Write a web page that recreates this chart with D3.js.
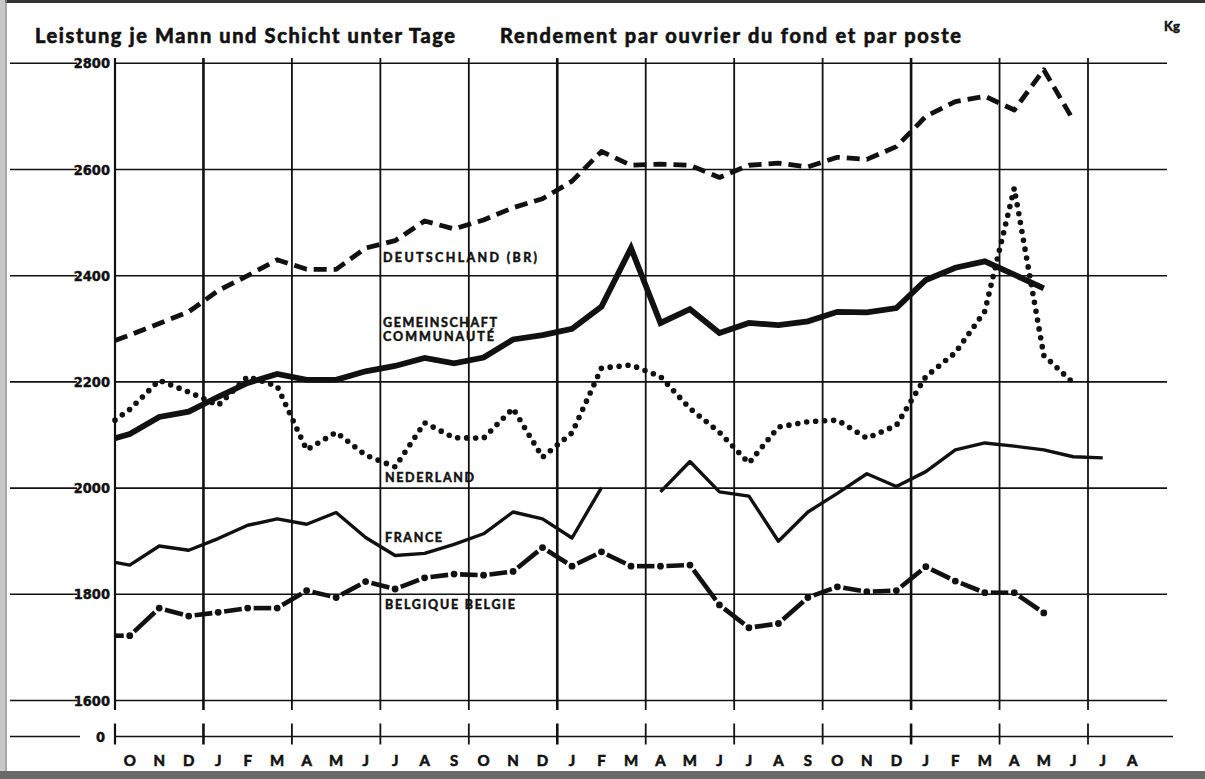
<!DOCTYPE html>
<html><head><meta charset="utf-8">
<script src="https://cdn.jsdelivr.net/npm/d3@7"></script>
<style>
html,body{margin:0;padding:0;background:#fff;}
svg{display:block;}
</style></head><body>
<svg id="chart" width="1205" height="779"></svg>
<script>
// ---- data ----
const months = ["O","N","D","J","F","M","A","M","J","J","A","S","O","N","D",
                "J","F","M","A","M","J","J","A","S","O","N","D",
                "J","F","M","A","M","J","J","A"];
const yTicks = [1600, 1800, 2000, 2200, 2400, 2600, 2800];

// value at the left edge of the grid, then one value per month (Oct ...)
const deutschlandEdge = 2278;
const deutschland = [2288,2310,2332,2372,2400,2430,2412,2412,2452,2466,2503,2488,2505,2528,2545,
                     2578,2634,2608,2610,2608,2585,2608,2612,2605,2623,2619,2643,
                     2700,2728,2738,2712,2788,2693];
const gemeinschaftEdge = 2094;
const gemeinschaft = [2102,2134,2144,2172,2198,2215,2204,2204,2220,2230,2245,2235,2246,2280,2288,
                      2300,2342,2452,2311,2337,2292,2311,2307,2314,2332,2331,2339,
                      2392,2415,2427,2402,2376];
const nederlandEdge = 2128;
const nederland = [2148,2203,2181,2156,2210,2192,2072,2105,2062,2040,2123,2095,2094,2150,2058,
                   2104,2226,2232,2210,2150,2105,2047,2115,2125,2128,2094,2118,
                   2210,2255,2333,2565,2250,2198];
const franceEdge = 1860;
const france = [1855,1891,1883,1905,1930,1942,1932,1954,1907,1873,1877,1894,1914,1955,1942,
                1906,2001,null,1993,2050,1993,1985,1900,1955,1990,2027,2003,
                2031,2072,2085,2079,2072,2059,2057];
const belgiqueEdge = 1722;
const belgique = [1722,1774,1759,1766,1774,1774,1807,1794,1824,1810,1831,1838,1836,1843,1888,
                  1853,1880,1853,1853,1855,1780,1737,1745,1794,1814,1805,1807,
                  1852,1825,1803,1803,1765];

// ---- setup ----
const svg = d3.select("#chart");
const ink = "#111";
const font = "Lato, 'Open Sans', 'DejaVu Sans', sans-serif";
const narrow = "'Liberation Sans Narrow', 'DejaVu Sans Condensed', 'Roboto Condensed', sans-serif";

const x = d3.scaleLinear().domain([0, 33]).range([115, 1088]);
const y = d3.scaleLinear().domain([1600, 2800]).range([700.5, 63.3]);
const zeroY = 736.5;
const gridRight = 1167;

// scan edges
svg.append("rect").attr("x",0).attr("y",0).attr("width",1205).attr("height",3).attr("fill","#333");
svg.append("rect").attr("x",0).attr("y",0).attr("width",5).attr("height",779).attr("fill","#c8c8c8");
svg.append("line").attr("x1",6).attr("x2",6).attr("y1",0).attr("y2",779).attr("stroke","#888").attr("stroke-width",1.5);
svg.append("rect").attr("x",0).attr("y",771).attr("width",1205).attr("height",8).attr("fill","#6a6a6a");

// horizontal grid
const hg = svg.append("g").attr("stroke", ink).attr("stroke-width", 1.6);
yTicks.forEach(t => {
  hg.append("line").attr("x1", x(0)).attr("x2", gridRight).attr("y1", y(t)).attr("y2", y(t));
  hg.append("line").attr("x1", 10).attr("x2", 77).attr("y1", y(t)).attr("y2", y(t));
});
// zero baseline (broken axis)
hg.append("line").attr("x1", x(0)).attr("x2", 1173).attr("y1", zeroY).attr("y2", zeroY);
hg.append("line").attr("x1", 10).attr("x2", 80).attr("y1", zeroY).attr("y2", zeroY);

// vertical grid
const vg = svg.append("g").attr("stroke", ink);
d3.range(0, 34, 3).forEach(k => {
  const isYear = k > 0 && (k - 3) % 12 === 0;
  const w = k === 0 ? 2.2 : (isYear ? 2.6 : 1.8);
  vg.append("line").attr("x1", x(k)).attr("x2", x(k)).attr("y1", 58).attr("y2", 710).attr("stroke-width", w);
  vg.append("line").attr("x1", x(k)).attr("x2", x(k)).attr("y1", zeroY - 13).attr("y2", zeroY + 8).attr("stroke-width", w);
});

// y labels
svg.append("g").selectAll("text").data(yTicks).join("text")
  .attr("x", 110).attr("y", d => y(d) + 5).attr("text-anchor", "end")
  .attr("font-family", narrow).attr("font-weight", "bold").attr("font-size", 14.5)
  .attr("fill", ink).attr("stroke", ink).attr("stroke-width", 0.4).text(d => d);
svg.append("text").attr("x", 105).attr("y", zeroY + 5).attr("text-anchor", "end")
  .attr("font-family", narrow).attr("font-weight", "bold").attr("font-size", 14.5)
  .attr("fill", ink).attr("stroke", ink).attr("stroke-width", 0.4).text("0");

// month labels
svg.append("g").selectAll("text").data(months).join("text")
  .attr("x", (d, i) => x(i + 0.5)).attr("y", 766).attr("text-anchor", "middle")
  .attr("font-family", font).attr("font-weight", "bold").attr("font-size", 15)
  .attr("fill", ink).attr("stroke", ink).attr("stroke-width", 0.6).text(d => d);

// titles
svg.append("text").attr("x", 35).attr("y", 42.5).attr("font-family", font).attr("font-weight", "bold")
  .attr("font-size", 20).attr("fill", ink).attr("stroke", ink).attr("stroke-width", 0.7)
  .attr("textLength", 420).attr("lengthAdjust", "spacing")
  .text("Leistung je Mann und Schicht unter Tage");
svg.append("text").attr("x", 500).attr("y", 42.5).attr("font-family", font).attr("font-weight", "bold")
  .attr("font-size", 20).attr("fill", ink).attr("stroke", ink).attr("stroke-width", 0.7)
  .attr("textLength", 461).attr("lengthAdjust", "spacing")
  .text("Rendement par ouvrier du fond et par poste");
svg.append("text").attr("x", 1164).attr("y", 31).attr("font-family", font).attr("font-weight", "bold")
  .attr("font-size", 13).attr("fill", ink).attr("stroke", ink).attr("stroke-width", 0.5).text("Kg");

// series helpers
function pts(edge, vals) {
  return [{xi: 0, v: edge}].concat(vals.map((v, i) => ({xi: i + 0.5, v})));
}
const line = d3.line().defined(d => d.v !== null).x(d => x(d.xi)).y(d => y(d.v));

// Deutschland dashed
svg.append("path").datum(pts(deutschlandEdge, deutschland)).attr("d", line)
  .attr("fill", "none").attr("stroke", ink).attr("stroke-width", 4.8)
  .attr("stroke-dasharray", "13,7").attr("stroke-linejoin", "round");

// Gemeinschaft thick solid
svg.append("path").datum(pts(gemeinschaftEdge, gemeinschaft)).attr("d", line)
  .attr("fill", "none").attr("stroke", ink).attr("stroke-width", 5.8).attr("stroke-linejoin", "miter");

// Nederland dotted
svg.append("path").datum(pts(nederlandEdge, nederland)).attr("d", line)
  .attr("fill", "none").attr("stroke", ink).attr("stroke-width", 5.6)
  .attr("stroke-dasharray", "0,9").attr("stroke-linecap", "round");

// France thin solid
svg.append("path").datum(pts(franceEdge, france)).attr("d", line)
  .attr("fill", "none").attr("stroke", ink).attr("stroke-width", 3.4).attr("stroke-linejoin", "round");

// Belgique dash-dot: dashes between monthly points, dots on the points
const bp = pts(belgiqueEdge, belgique).map(d => ({px: x(d.xi), py: y(d.v), xi: d.xi}));
const bg = svg.append("g");
for (let i = 0; i < bp.length - 1; i++) {
  const a = bp[i], b = bp[i + 1];
  const dx = b.px - a.px, dy = b.py - a.py, L = Math.hypot(dx, dy);
  const g0 = i === 0 ? 0 : 6, g1 = 6;
  bg.append("line")
    .attr("x1", a.px + dx * g0 / L).attr("y1", a.py + dy * g0 / L)
    .attr("x2", b.px - dx * g1 / L).attr("y2", b.py - dy * g1 / L)
    .attr("stroke", ink).attr("stroke-width", 4.6);
}
bg.selectAll("circle").data(bp.slice(1)).join("circle")
  .attr("cx", d => d.px).attr("cy", d => d.py).attr("r", 3.4).attr("fill", ink);

// series labels
const labels = [
  {t: "DEUTSCHLAND (BR)", x: 383, y: 262, w: 154},
  {t: "GEMEINSCHAFT", x: 383, y: 326.5, w: 114},
  {t: "COMMUNAUTÉ", x: 383, y: 340.5, w: 111},
  {t: "NEDERLAND", x: 385, y: 481.5, w: 89},
  {t: "FRANCE", x: 385, y: 541.5, w: 57},
  {t: "BELGIQUE BELGIE", x: 385, y: 609, w: 130}
];
svg.append("g").selectAll("text").data(labels).join("text")
  .attr("x", d => d.x).attr("y", d => d.y).attr("textLength", d => d.w).attr("lengthAdjust", "spacing")
  .attr("font-family", font).attr("font-weight", "bold").attr("font-size", 12.5)
  .attr("fill", ink).attr("stroke", ink).attr("stroke-width", 0.5).text(d => d.t);
</script>
</body></html>
